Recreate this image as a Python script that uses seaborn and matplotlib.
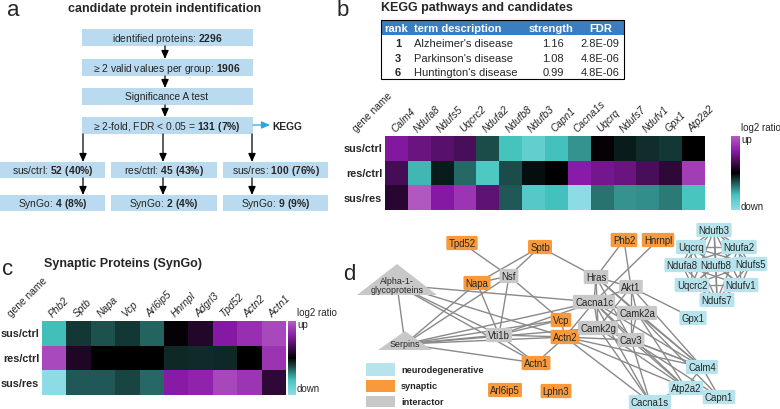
import numpy as np
import pandas as pd
import matplotlib
matplotlib.use("Agg")
import matplotlib.pyplot as plt
import seaborn as sns
from matplotlib.colors import LinearSegmentedColormap
from matplotlib.patches import Rectangle, Polygon

# ---- panel a: filtering steps ----
flow_steps = ["identified proteins: ", "≥ 2 valid values per group: ",
              "Significance A test", "≥ 2-fold, FDR < 0.05 = "]
flow_counts = ["2296", "1906", "", "131 (7%)"]
comparisons = ["sus/ctrl", "res/ctrl", "sus/res"]
comp_counts = ["52 (40%)", "45 (43%)", "100 (76%)"]
syngo_counts = ["4 (8%)", "2 (4%)", "9 (9%)"]

# ---- panel b: KEGG table + heatmap ----
kegg_rank = [1, 3, 6]
kegg_terms = ["Alzheimer's disease", "Parkinson's disease", "Huntington's disease"]
kegg_strength = [1.16, 1.08, 0.99]
kegg_fdr = ["2.8E-09", "4.8E-06", "4.8E-06"]

kegg_genes = ["Calm4", "Ndufa8", "Ndufs5", "Uqcrc2", "Ndufa2", "Ndufb8", "Ndufb3",
              "Capn1", "Cacna1s", "Uqcrq", "Ndufs7", "Ndufv1", "Gpx1", "Atp2a2"]
kegg_sus_ctrl = [0.56, 0.46, 0.38, 0.32, -0.23, -0.60, -0.76, -0.59, -0.45, 0.02, -0.08, -0.14, -0.17, 0.0]
kegg_res_ctrl = [0.30, -0.56, -0.08, -0.32, -0.65, -0.23, -0.04, 0.0, 0.60, 0.50, 0.46, 0.32, 0.20, 0.82]
kegg_sus_res = [0.17, 0.97, 0.58, 0.76, 0.41, -0.27, -0.68, -0.59, -0.97, -0.35, -0.45, -0.43, -0.37, -0.62]

# ---- panel c: SynGo heatmap ----
syngo_genes = ["Phb2", "Sptb", "Napa", "Vcp", "Arl6ip5", "Hnrnpl", "Adgrl3", "Tpd52", "Actn2", "Actn1"]
syngo_sus_ctrl = [-0.58, -0.17, -0.25, -0.17, -0.30, 0.02, 0.15, 0.58, 0.72, 0.88]
syngo_res_ctrl = [0.89, 0.13, 0.0, 0.0, 0.0, -0.12, -0.13, -0.12, 0.0, 0.75]
syngo_sus_res = [-0.97, -0.27, -0.27, -0.21, -0.32, 0.59, 0.65, 0.87, 0.76, 0.20]

# ---- panel d: interaction network ----
net_nodes = ["Alpha-1-\nglycoproteins", "Serpins", "Tpd52", "Sptb", "Napa", "Nsf", "Vti1b",
             "Vcp", "Actn2", "Actn1", "Arl6ip5", "Lphn3", "Phb2", "Hnrnpl", "Hras", "Akt1",
             "Cacna1c", "Camk2a", "Camk2g", "Cav3", "Gpx1", "Calm4", "Atp2a2", "Capn1",
             "Cacna1s", "Ndufb3", "Uqcrq", "Ndufa2", "Ndufa8", "Ndufb8", "Ndufs5", "Uqcrc2",
             "Ndufv1", "Ndufs7"]
net_groups = ["interactor", "interactor", "synaptic", "synaptic", "synaptic", "interactor",
              "interactor", "synaptic", "synaptic", "synaptic", "synaptic", "synaptic",
              "synaptic", "synaptic", "interactor", "interactor", "interactor", "interactor",
              "interactor", "interactor"] + ["neurodegenerative"] * 14
mito = ["Ndufb3", "Uqcrq", "Ndufa2", "Ndufa8", "Ndufb8", "Ndufs5", "Uqcrc2", "Ndufv1", "Ndufs7"]
net_edges = [
    ("Alpha-1-\nglycoproteins", "Serpins"), ("Alpha-1-\nglycoproteins", "Vti1b"),
    ("Alpha-1-\nglycoproteins", "Actn2"), ("Alpha-1-\nglycoproteins", "Cacna1c"),
    ("Alpha-1-\nglycoproteins", "Actn1"),
    ("Serpins", "Napa"), ("Serpins", "Nsf"), ("Serpins", "Vti1b"), ("Serpins", "Actn2"),
    ("Serpins", "Vcp"), ("Serpins", "Cacna1c"), ("Serpins", "Camk2g"), ("Serpins", "Actn1"),
    ("Tpd52", "Nsf"), ("Sptb", "Napa"), ("Sptb", "Nsf"), ("Sptb", "Hras"),
    ("Nsf", "Napa"), ("Nsf", "Vti1b"), ("Nsf", "Vcp"), ("Napa", "Vti1b"),
    ("Phb2", "Hras"), ("Phb2", "Akt1"), ("Hnrnpl", "Cacna1c"),
    ("Hras", "Akt1"), ("Hras", "Cacna1c"), ("Hras", "Camk2a"), ("Hras", "Cav3"),
    ("Hras", "Calm4"), ("Hras", "Camk2g"),
    ("Akt1", "Gpx1"), ("Akt1", "Cacna1c"), ("Akt1", "Camk2a"), ("Akt1", "Cav3"),
    ("Akt1", "Calm4"), ("Akt1", "Camk2g"),
    ("Cacna1c", "Camk2a"), ("Cacna1c", "Camk2g"), ("Cacna1c", "Cav3"), ("Cacna1c", "Calm4"),
    ("Cacna1c", "Atp2a2"), ("Cacna1c", "Cacna1s"), ("Cacna1c", "Actn2"), ("Cacna1c", "Vti1b"),
    ("Camk2a", "Calm4"), ("Camk2a", "Atp2a2"), ("Camk2a", "Capn1"), ("Camk2a", "Cav3"),
    ("Camk2a", "Camk2g"),
    ("Camk2g", "Calm4"), ("Camk2g", "Atp2a2"), ("Camk2g", "Cacna1s"), ("Camk2g", "Actn2"),
    ("Cav3", "Calm4"), ("Cav3", "Atp2a2"), ("Cav3", "Cacna1s"), ("Cav3", "Capn1"),
    ("Actn2", "Vti1b"), ("Actn2", "Actn1"), ("Actn2", "Vcp"), ("Actn2", "Atp2a2"),
    ("Actn2", "Cacna1s"), ("Actn2", "Cav3"), ("Actn2", "Calm4"),
    ("Actn1", "Vti1b"), ("Vti1b", "Vcp"),
    ("Calm4", "Atp2a2"), ("Calm4", "Capn1"), ("Atp2a2", "Capn1"), ("Atp2a2", "Cacna1s"),
] + [(a, b) for i, a in enumerate(mito) for b in mito[i + 1:]]

# network layout (pixel positions of node centres)
node_pos = {
    "Alpha-1-\nglycoproteins": (397, 286), "Serpins": (405, 345), "Tpd52": (462, 244),
    "Sptb": (540, 248), "Napa": (477, 284), "Nsf": (509, 277), "Vti1b": (499, 336),
    "Vcp": (561, 321), "Actn2": (565, 338), "Actn1": (536, 364), "Arl6ip5": (505, 391),
    "Lphn3": (556, 392), "Phb2": (624, 241), "Hnrnpl": (658, 241), "Hras": (596, 278),
    "Akt1": (631, 288), "Cacna1c": (594, 303), "Camk2a": (637, 314), "Camk2g": (598, 329),
    "Cav3": (631, 341), "Gpx1": (693, 319), "Calm4": (702, 368), "Atp2a2": (686, 389),
    "Capn1": (719, 398), "Cacna1s": (650, 403), "Ndufb3": (714, 231), "Uqcrq": (691, 248),
    "Ndufa2": (739, 248), "Ndufa8": (682, 266), "Ndufb8": (716, 266), "Ndufs5": (750, 265),
    "Uqcrc2": (692, 286), "Ndufv1": (741, 286), "Ndufs7": (717, 301),
}
group_colors = {"neurodegenerative": "#b6e3ec", "synaptic": "#f89a3c", "interactor": "#c8c8c8"}

sns.set_style("white")
plt.rcParams["font.family"] = ["Liberation Sans", "DejaVu Sans"]
plt.rcParams["mathtext.fontset"] = "custom"
plt.rcParams["mathtext.rm"] = "Liberation Sans"
plt.rcParams["mathtext.bf"] = "Liberation Sans:bold"

W, H = 780, 410
fig = plt.figure(figsize=(7.8, 4.1), dpi=100)
ax0 = fig.add_axes([0, 0, 1, 1])
ax0.set_xlim(0, W)
ax0.set_ylim(H, 0)
ax0.axis("off")


def px_axes(x0, y0, x1, y1):
    return fig.add_axes([x0 / W, 1 - y1 / H, (x1 - x0) / W, (y1 - y0) / H])


def rich(plain, bold):
    if not bold:
        return plain
    return plain + r"$\mathbf{" + bold.replace(" ", r"\ ").replace("%", r"\%") + "}$"


box_col = "#badaf0"
arrow_kw = dict(arrowstyle="-|>,head_length=0.5,head_width=0.22", color="black", lw=0.9,
                shrinkA=0, shrinkB=0)
fs_flow = 7.4

# panel letters & titles
for letter, (x, y) in zip("abcd", [(13, 11), (343, 10), (8, 270), (349, 275)]):
    ax0.text(x, y, letter, fontsize=16, ha="center", va="center")
ax0.text(165, 9, "candidate protein indentification", fontsize=9, fontweight="bold",
         ha="center", va="center")
ax0.text(381, 8, "KEGG pathways and candidates", fontsize=9, fontweight="bold", va="center")
ax0.text(44, 264, "Synaptic Proteins (SynGo)", fontsize=9, fontweight="bold", va="center")

# ---- panel a flowchart ----
top_rows = [(30, 47), (60, 77), (89, 106), (118, 135)]
for (y0, y1), step, cnt in zip(top_rows, flow_steps, flow_counts):
    ax0.add_patch(Rectangle((82, y0), 171, y1 - y0, fc=box_col, ec="none"))
    ax0.text(167, (y0 + y1) / 2, rich(step, cnt), fontsize=fs_flow, ha="center", va="center")
for (_, y1), (y0n, _) in zip(top_rows[:-1], top_rows[1:]):
    ax0.annotate("", xy=(165, y0n), xytext=(165, y1), arrowprops=arrow_kw)
ax0.annotate("", xy=(270, 126), xytext=(253, 126),
             arrowprops=dict(arrow_kw, color="#2aa7df"))
ax0.text(272, 126.5, "KEGG", fontsize=fs_flow, fontweight="bold", va="center")

col_x = [(0, 105), (111, 217), (223, 328)]
arrow_x = [83, 163, 252]
for (x0, x1), ax_, comp, c1, c2 in zip(col_x, arrow_x, comparisons, comp_counts, syngo_counts):
    ax0.annotate("", xy=(ax_, 163), xytext=(ax_, 135), arrowprops=arrow_kw)
    ax0.add_patch(Rectangle((x0, 163), x1 - x0, 16, fc=box_col, ec="none"))
    ax0.text((x0 + x1) / 2, 171, rich(comp + ": ", c1), fontsize=fs_flow, ha="center", va="center")
    ax0.annotate("", xy=(ax_, 196), xytext=(ax_, 179), arrowprops=arrow_kw)
    ax0.add_patch(Rectangle((x0, 196), x1 - x0, 16, fc=box_col, ec="none"))
    ax0.text((x0 + x1) / 2, 204, rich("SynGo: ", c2), fontsize=fs_flow, ha="center", va="center")

# ---- panel b table ----
fs_tab = 8
ax0.add_patch(Rectangle((381, 21), 243, 15, fc="#3a7dc1", ec="none"))
ax0.add_patch(Rectangle((381, 21), 243, 59, fc="none", ec="black", lw=0.8))
hdr_y = 28.5
ax0.text(396, hdr_y, "rank", color="white", fontweight="bold", fontsize=fs_tab, ha="center", va="center")
ax0.text(414, hdr_y, "term description", color="white", fontweight="bold", fontsize=fs_tab, va="center")
ax0.text(551, hdr_y, "strength", color="white", fontweight="bold", fontsize=fs_tab, ha="center", va="center")
ax0.text(601, hdr_y, "FDR", color="white", fontweight="bold", fontsize=fs_tab, ha="center", va="center")
for i, (rk, term, st, fdr) in enumerate(zip(kegg_rank, kegg_terms, kegg_strength, kegg_fdr)):
    y = 44 + i * 14.7
    ax0.text(398, y, str(rk), fontweight="bold", fontsize=fs_tab, ha="center", va="center")
    ax0.text(414, y, term, fontsize=fs_tab, va="center")
    ax0.text(553, y, f"{st:.2f}", fontsize=fs_tab, ha="center", va="center")
    ax0.text(600, y, fdr, fontsize=fs_tab, ha="center", va="center")

# ---- heatmaps (b, c) ----
cmap = LinearSegmentedColormap.from_list(
    "log2", [(0, "#8fdde6"), (0.2, "#45c4be"), (0.5, "#000000"), (0.8, "#8a1aa8"), (1, "#b35cc2")])


def draw_heat(box, cbox, genes, rows, lab):
    ax = px_axes(*box)
    cax = px_axes(*cbox)
    df = pd.DataFrame(rows, index=comparisons, columns=genes)
    sns.heatmap(df, ax=ax, cbar_ax=cax, cmap=cmap, vmin=-1, vmax=1)
    ax.xaxis.tick_top()
    ax.tick_params(length=0, pad=2)
    ax.set_xticks(np.arange(len(genes)) + 0.5)
    ax.set_xticklabels(genes, rotation=45, ha="left", rotation_mode="anchor",
                       fontstyle="italic", fontsize=7.3)
    ax.set_yticklabels(comparisons, rotation=0, fontweight="bold", fontsize=7.8)
    ax.set_xlabel("")
    ax.set_ylabel("")
    ax.text(-1.2, -0.12, "gene name", rotation=45, rotation_mode="anchor", ha="left",
            va="bottom", fontsize=7.3, clip_on=False)
    cbar = ax.collections[0].colorbar
    cbar.outline.set_visible(False)
    cax.set_yticks([])
    cx = cbox[2] + 1
    ax0.text(cx, lab[0], "log2 ratio", fontsize=7, va="center")
    ax0.text(cx, lab[1], "up", fontsize=7, va="center")
    ax0.text(cx, lab[2], "down", fontsize=7, va="center")


draw_heat((385, 137, 705, 211), (731, 137, 740, 211), kegg_genes,
          [kegg_sus_ctrl, kegg_res_ctrl, kegg_sus_res], (128, 140, 207))
draw_heat((42, 322, 286, 396), (288, 322, 296, 396), syngo_genes,
          [syngo_sus_ctrl, syngo_res_ctrl, syngo_sus_res], (313, 325, 389))

# ---- panel d network ----
for a, b in net_edges:
    (xa, ya), (xb, yb) = node_pos[a], node_pos[b]
    ax0.plot([xa, xb], [ya, yb], color="#8a8a8a", lw=1.0, zorder=1)

tri_shape = {"Alpha-1-\nglycoproteins": (21, 10, 40), "Serpins": (13, 6, 27)}
for name, grp in zip(net_nodes, net_groups):
    x, y = node_pos[name]
    col = group_colors[grp]
    if name in tri_shape:
        up, down, hw = tri_shape[name]
        ax0.add_patch(Polygon([(x, y - up), (x - hw, y + down), (x + hw, y + down)],
                              closed=True, fc=col, ec="none", zorder=2))
        ax0.text(x, y, name, fontsize=6.4, ha="center", va="center", zorder=3, linespacing=1.0)
    else:
        ax0.text(x, y, name, fontsize=6.9, ha="center", va="center", zorder=3,
                 bbox=dict(boxstyle="round,pad=0.22,rounding_size=0.15", fc=col, ec="none"))

legend_y = [(364, 377), (381, 393), (397, 408)]
for (y0, y1), grp in zip(legend_y, ["neurodegenerative", "synaptic", "interactor"]):
    ax0.add_patch(Rectangle((366, y0), 29, y1 - y0, fc=group_colors[grp], ec="none"))
    ax0.text(401, (y0 + y1) / 2, grp, fontsize=6.6, fontweight="bold", va="center")

fig.savefig("out.png", dpi=100)
